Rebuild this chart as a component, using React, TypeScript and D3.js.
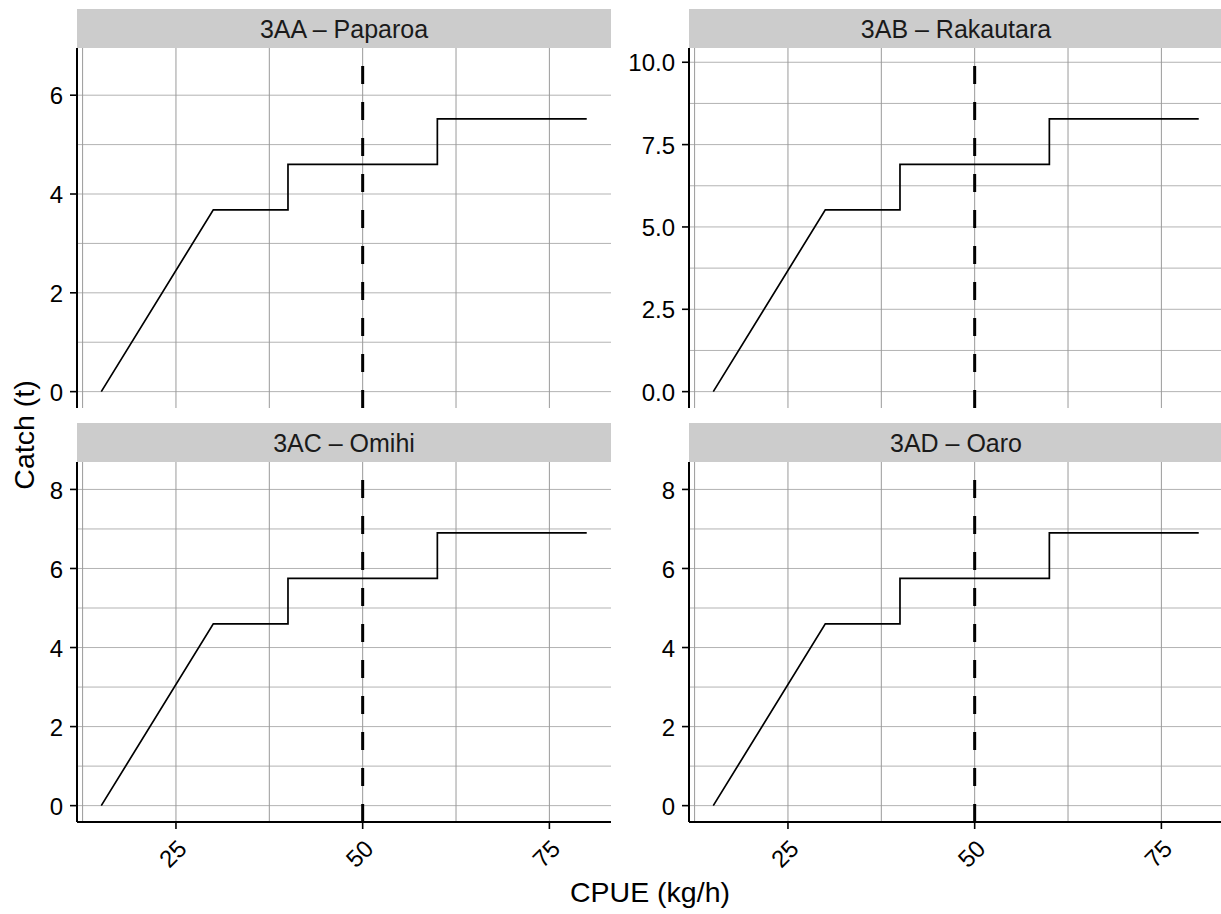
import React from "react";
import * as d3 from "d3";

// Statistical areas shown as facets
const regions = ["3AA – Paparoa", "3AB – Rakautara", "3AC – Omihi", "3AD – Oaro"];

// CPUE breakpoints of the catch rule (kg/h); repeated values form the steps
const cpueSteps = [15, 30, 40, 40, 60, 60, 80];

// Catch (t) at each breakpoint, per area
const catchPaparoa = [0, 3.68, 3.68, 4.6, 4.6, 5.52, 5.52];
const catchRakautara = [0, 5.52, 5.52, 6.9, 6.9, 8.28, 8.28];
const catchOmihi = [0, 4.6, 4.6, 5.75, 5.75, 6.9, 6.9];
const catchOaro = [0, 4.6, 4.6, 5.75, 5.75, 6.9, 6.9];
const catchSeries = [catchPaparoa, catchRakautara, catchOmihi, catchOaro];

// Upper limit of each facet's catch scale
const catchLimit = [6.624, 9.936, 8.28, 8.28];

// Axis breaks
const yTicks = [
  [0, 2, 4, 6],
  [0, 2.5, 5, 7.5, 10],
  [0, 2, 4, 6, 8],
  [0, 2, 4, 6, 8],
];
const yMinor = [
  [1, 3, 5],
  [1.25, 3.75, 6.25, 8.75],
  [1, 3, 5, 7],
  [1, 3, 5, 7],
];
const yLabelDecimals = [0, 1, 0, 0];
const xTicks = [25, 50, 75];
const xMinor = [12.5, 37.5, 62.5];
const cpueRange = [15, 80];
const referenceCpue = 50;

const W = 1221;
const H = 914;
const FONT = "'Liberation Sans', Arial, Helvetica, sans-serif";
const TICK_SIZE = 24;
const STRIP_SIZE = 25;
const TITLE_SIZE = 28.5;

const colX = [77, 689];
const panelW = 534;
const stripTop = [9, 423];
const stripH = 39;
const panelH = 360;

function Facet({ i }: { i: number }) {
  const col = i % 2;
  const row = Math.floor(i / 2);
  const x0 = colX[col];
  const x1 = x0 + panelW;
  const sTop = stripTop[row];
  const pTop = sTop + stripH;
  const pBot = pTop + panelH;

  const xPad = (cpueRange[1] - cpueRange[0]) * 0.05;
  const x = d3
    .scaleLinear()
    .domain([cpueRange[0] - xPad, cpueRange[1] + xPad])
    .range([x0, x1]);
  const lim = catchLimit[i];
  const y = d3
    .scaleLinear()
    .domain([-0.05 * lim, 1.05 * lim])
    .range([pBot, pTop]);

  const line = d3
    .line<number>()
    .x((_, k) => x(cpueSteps[k]))
    .y((d) => y(d));

  const fmt = d3.format(yLabelDecimals[i] ? ".1f" : "d");
  const clipId = `clip-${i}`;

  return (
    <g>
      <defs>
        <clipPath id={clipId}>
          <rect x={x0} y={pTop} width={panelW} height={panelH} />
        </clipPath>
      </defs>
      {/* strip */}
      <rect x={x0} y={sTop} width={panelW} height={stripH} fill="#cccccc" />
      <text
        x={(x0 + x1) / 2}
        y={sTop + stripH / 2}
        dy="0.37em"
        textAnchor="middle"
        fontSize={STRIP_SIZE}
        fill="#1a1a1a"
        fontFamily={FONT}
      >
        {regions[i]}
      </text>

      <g clipPath={`url(#${clipId})`}>
        {/* grid */}
        {yMinor[i].map((v) => (
          <line key={`ym${v}`} x1={x0} x2={x1} y1={y(v)} y2={y(v)} stroke="#b3b3b3" strokeWidth={1} />
        ))}
        {yTicks[i].map((v) => (
          <line key={`yM${v}`} x1={x0} x2={x1} y1={y(v)} y2={y(v)} stroke="#b3b3b3" strokeWidth={1} />
        ))}
        {xMinor.map((v) => (
          <line key={`xm${v}`} x1={x(v)} x2={x(v)} y1={pTop} y2={pBot} stroke="#9a9a9a" strokeWidth={1} />
        ))}
        {xTicks.map((v) => (
          <line key={`xM${v}`} x1={x(v)} x2={x(v)} y1={pTop} y2={pBot} stroke="#9a9a9a" strokeWidth={1} />
        ))}

        {/* catch rule */}
        <path d={line(catchSeries[i]) || ""} fill="none" stroke="#000" strokeWidth={1.7} />

        {/* reference CPUE */}
        <line
          x1={x(referenceCpue)}
          x2={x(referenceCpue)}
          y1={pBot}
          y2={pTop}
          stroke="#000"
          strokeWidth={3}
          strokeDasharray="18 18"
        />
      </g>

      {/* y axis */}
      <line x1={x0} x2={x0} y1={pTop} y2={pBot} stroke="#000" strokeWidth={2} />
      {yTicks[i].map((v) => (
        <g key={`yt${v}`}>
          <line x1={x0 - 7} x2={x0} y1={y(v)} y2={y(v)} stroke="#000" strokeWidth={1.6} />
          <text
            x={x0 - 14}
            y={y(v)}
            dy="0.38em"
            textAnchor="end"
            fontSize={TICK_SIZE}
            fill="#000"
            fontFamily={FONT}
          >
            {fmt(v)}
          </text>
        </g>
      ))}

      {/* x axis on bottom row */}
      {row === 1 && (
        <g>
          <line x1={x0} x2={x1} y1={pBot} y2={pBot} stroke="#000" strokeWidth={2} />
          {xTicks.map((v) => (
            <g key={`xt${v}`}>
              <line x1={x(v)} x2={x(v)} y1={pBot} y2={pBot + 7} stroke="#000" strokeWidth={1.6} />
              <text
                transform={`translate(${x(v)},${pBot + 16}) rotate(-45)`}
                textAnchor="end"
                dy="0.72em"
                fontSize={TICK_SIZE}
                fill="#000"
                fontFamily={FONT}
              >
                {v}
              </text>
            </g>
          ))}
        </g>
      )}
    </g>
  );
}

export default function App() {
  return (
    <div style={{ position: "absolute", left: 0, top: 0 }}>
      <svg width={W} height={H} viewBox={`0 0 ${W} ${H}`} style={{ display: "block", background: "#fff" }}>
        <rect x={0} y={0} width={W} height={H} fill="#fff" />
        {regions.map((_, i) => (
          <Facet key={i} i={i} />
        ))}
        <text
          x={650}
          y={902}
          textAnchor="middle"
          fontSize={TITLE_SIZE}
          fill="#000"
          fontFamily={FONT}
        >
          CPUE (kg/h)
        </text>
        <text
          transform="translate(34,435) rotate(-90)"
          textAnchor="middle"
          fontSize={TITLE_SIZE}
          fill="#000"
          fontFamily={FONT}
        >
          Catch (t)
        </text>
      </svg>
    </div>
  );
}
